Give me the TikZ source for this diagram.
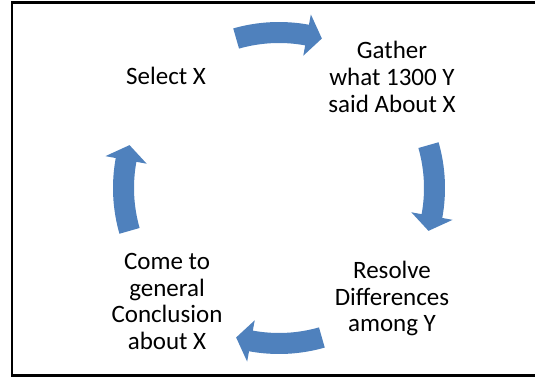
\documentclass[tikz,border=0pt]{standalone}
\usepackage{fontspec}
\setmainfont{Carlito}
\usetikzlibrary{calc}
\definecolor{arrowblue}{RGB}{79,129,189}
\tikzset{
  lbl/.style={align=center, inner sep=0pt, font=\fontsize{25}{26.7}\selectfont, text=black},
  cyclearrow/.style={fill=arrowblue, draw=none}
}
\newcommand{\cyclearr}[1]{%
  \fill[cyclearrow] (#1+16:145) arc[start angle=#1+16, end angle=#1-10.4, radius=145]
    -- (#1-10.4:134.5) -- (#1-16:155.5) -- (#1-10.4:176.5) -- (#1-10.4:166)
    arc[start angle=#1-10.4, end angle=#1+16, radius=166] -- cycle;}
\begin{document}
\begin{tikzpicture}[x=1pt,y=1pt]
\useasboundingbox (0,0) rectangle (535,377);
\clip (0,0) rectangle (535,377);
\draw[line width=2.6pt] (12,1.5) rectangle (560,374.5);
\node[lbl] (sel) at (166,301) {Select X};
\node[lbl] (gat) at (392,300) {Gather\\what 1300 Y\\said About X};
\node[lbl] (res) at (392,78.5) {Resolve\\Differences\\among Y};
\node[lbl] (con) at (167,75.5) {Come to\\general\\Conclusion\\about X};
\begin{scope}[shift={(279,189)}]
\coordinate (O) at (0,0);
\cyclearr{90}
\cyclearr{0}
\cyclearr{-90}
\cyclearr{180}
\end{scope}
\end{tikzpicture}
\end{document}
